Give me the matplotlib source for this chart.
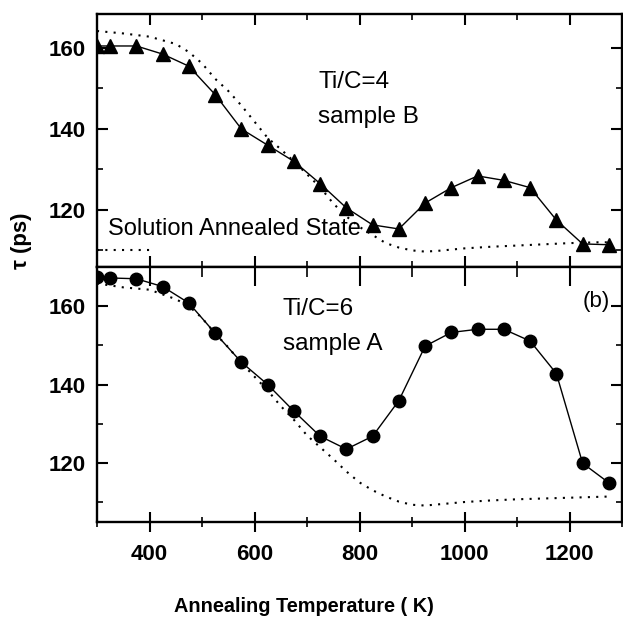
import matplotlib
matplotlib.use("Agg")
import matplotlib.pyplot as plt
from matplotlib.ticker import FixedLocator

plt.rcParams['font.family'] = ['Liberation Sans', 'DejaVu Sans']

# ---- data ----
temp_pts = [300, 325, 375, 425, 475, 525, 575, 625, 675, 725, 775, 825, 875,
            925, 975, 1025, 1075, 1125, 1175, 1225, 1275]
tau_B = [160.5, 160.5, 160.5, 158.5, 155.5, 148.5, 140, 136, 132, 126.5, 120.5,
         116.3, 115.3, 121.7, 125.5, 128.4, 127.3, 125.5, 117.5, 111.6, 111.4]
tau_A = [167.5, 167.2, 167.0, 165.0, 160.8, 153.1, 145.7, 140.0, 133.2, 126.8,
         123.5, 126.8, 135.9, 149.8, 153.3, 154.1, 154.1, 151.1, 142.8, 119.9, 114.9]

ref_T = [300, 350, 400, 450, 475, 500, 525, 550, 575, 600, 625, 650, 675, 700,
         725, 750, 775, 800, 825, 850, 875, 900, 925, 950, 1000, 1050, 1100,
         1150, 1200, 1250, 1275]
ref_B = [164.2, 163.6, 162.8, 161.0, 159.0, 156.2, 152.4, 149.4, 145.8, 141.8,
         137.8, 135.0, 132.0, 128.8, 125.6, 121.6, 118.4, 115.8, 113.8, 111.8,
         110.7, 110.0, 109.7, 109.9, 110.5, 110.9, 111.2, 111.5, 111.8, 112.0, 112.0]
ref_A = [165.8, 164.8, 164.2, 161.8, 160.0, 157.0, 153.0, 149.5, 145.5, 142.0,
         138.5, 134.5, 131.0, 127.0, 124.0, 121.0, 117.8, 115.0, 113.0, 111.4,
         110.1, 109.3, 109.1, 109.4, 110.0, 110.4, 110.7, 110.9, 111.1, 111.3, 111.4]

sa_T = [300, 400]
sa_tau = [110, 110]

xticks = [400, 600, 800, 1000, 1200]
xminor = [300, 500, 700, 900, 1100, 1300]
yticks = [120, 140, 160]
yminor = [110, 130, 150, 170]

fig = plt.figure(figsize=(6.23, 6.23), dpi=100)
W = H = 623.0
left, right = 97 / W, 622 / W
axB = fig.add_axes([left, 1 - 267 / H, right - left, (267 - 14) / H])
axA = fig.add_axes([left, 1 - 522 / H, right - left, (522 - 267) / H], sharex=axB)

dot = (0, (1, 3))
axB.plot(ref_T, ref_B, color='black', lw=1.5, linestyle=dot)
axB.plot(sa_T, sa_tau, color='black', lw=1.5, linestyle=dot)
axB.plot(temp_pts, tau_B, color='black', lw=1.0, marker='^', ms=9.5)
axA.plot(ref_T, ref_A, color='black', lw=1.5, linestyle=dot)
axA.plot(temp_pts, tau_A, color='black', lw=1.0, marker='o', ms=9)

axB.set_xlim(300, 1300)
axB.set_ylim(105.9, 168.4)
axA.set_ylim(104.9, 170.0)

for ax in (axB, axA):
    ax.set_xticks(xticks)
    ax.xaxis.set_minor_locator(FixedLocator(xminor))
    ax.set_yticks(yticks)
    ax.yaxis.set_minor_locator(FixedLocator(yminor))
    for s in ax.spines.values():
        s.set_linewidth(1.7)
    ax.tick_params(which='major', direction='in', length=8, width=1.5,
                   top=True, right=True, labelsize=16, pad=8)
    ax.tick_params(which='minor', direction='in', length=4, width=1.2,
                   top=True, right=True)
    for lab in ax.get_yticklabels():
        lab.set_fontweight('bold')

axB.tick_params(axis='x', labelbottom=False)
axA.tick_params(axis='x', which='major', direction='inout', length=14, pad=9)
axA.tick_params(axis='x', which='minor', direction='inout', length=7)
for lab in axA.get_xticklabels():
    lab.set_fontweight('bold')
# keep top ticks of bottom panel pointing inward
for t in axA.xaxis.get_major_ticks() + axA.xaxis.get_minor_ticks():
    t.tick2line.set_marker(3)

axB.text(0.421, 0.7075, 'Ti/C=4', transform=axB.transAxes, fontsize=17.5, va='baseline')
axB.text(0.421, 0.569, 'sample B', transform=axB.transAxes, fontsize=17.5, va='baseline')
axB.text(0.021, 0.1265, 'Solution Annealed State', transform=axB.transAxes,
         fontsize=17, va='baseline')
axA.text(0.354, 0.812, 'Ti/C=6', transform=axA.transAxes, fontsize=17.5, va='baseline')
axA.text(0.354, 0.675, 'sample A', transform=axA.transAxes, fontsize=17.5, va='baseline')
axA.text(0.977, 0.863, '(b)', transform=axA.transAxes, fontsize=16, ha='right', va='center')

fig.text(304 / W, 1 - 607 / H, 'Annealing Temperature ( K)', fontsize=14.3,
         fontweight='bold', ha='center', va='center')
fig.text(22 / W, 1 - 241 / H, 'τ (ps)', fontsize=16, fontweight='bold',
         rotation=90, ha='center', va='center')

fig.savefig('out.png', dpi=100)
